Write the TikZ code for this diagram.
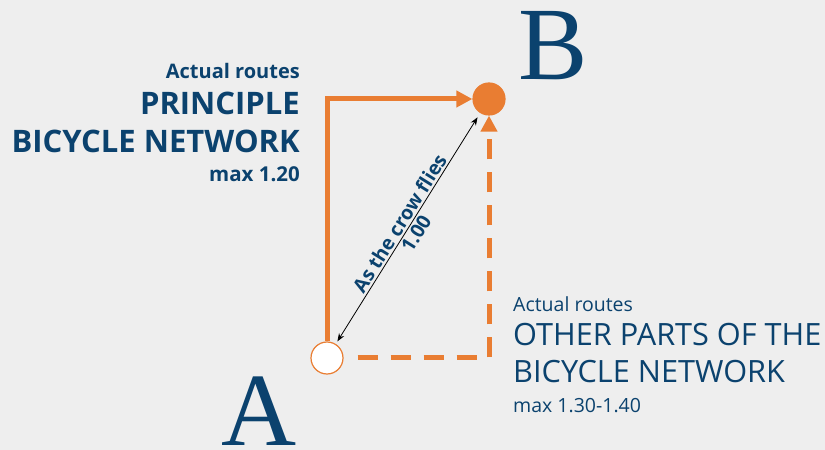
\documentclass[tikz,border=0pt]{standalone}
\usepackage{fontspec}
\setmainfont{Open Sans}
\newfontfamily\letterfont{Liberation Serif}
\usetikzlibrary{arrows.meta}
\definecolor{routeorange}{HTML}{E97D32}
\definecolor{textblue}{HTML}{0B426E}
\definecolor{bggray}{HTML}{EEEEEE}
\begin{document}
\begin{tikzpicture}[x=1pt,y=1pt,
    place/.style={circle,minimum size=32pt,inner sep=0pt,draw=routeorange,line width=1.2pt},
    route/.style={routeorange,line width=5pt},
    routetip/.style={-{Triangle[length=16pt,width=16pt]}},
    crow/.style={black,line width=0.8pt,{Stealth[length=8pt,width=6pt]}-{Stealth[length=8pt,width=6pt]}},
    label/.style={text=textblue,inner sep=0pt},
    letter/.style={text=textblue,inner sep=0pt,text depth=0pt,font=\letterfont\fontsize{104}{104}\selectfont}]
    \fill[bggray] (0,0) rectangle (825,450);
    \node[place,fill=white] (A) at (327,92) {};
    \node[place,fill=routeorange] (B) at (489,351) {};
    \draw[route,routetip] (A) |- (B);
    \draw[route,routetip,dash pattern=on 20pt off 13pt,shorten <=14pt] (A) -| (B);
    \draw[crow,shorten <=3pt,shorten >=5pt] (A) -- (B)
        node[label,midway,sloped,above=2pt,font=\bfseries\fontsize{19.5}{19.5}\selectfont] (crowtext) {As the crow flies}
        node[label,midway,sloped,below=2pt,font=\bfseries\fontsize{19.5}{19.5}\selectfont] (crowvalue) {1.00};
    % big letters
    \node[letter,anchor=base] (Aname) at (259,5) {A};
    \node[letter,anchor=base] (Bname) at (553,370) {B};
    % principle network
    \node[label,anchor=base east,font=\bfseries\fontsize{20}{20}\selectfont] (pactual) at (300,371) {Actual routes};
    \node[label,anchor=base east,font=\bfseries\fontsize{31}{31}\selectfont] (pname1) at (300,335) {PRINCIPLE};
    \node[label,anchor=base east,font=\bfseries\fontsize{31}{31}\selectfont] (pname2) at (300,297) {BICYCLE NETWORK};
    \node[label,anchor=base east,font=\bfseries\fontsize{20.5}{20.5}\selectfont] (pmax) at (300,268) {max 1.20};
    % other parts
    \node[label,anchor=base west,font=\fontsize{19.5}{19.5}\selectfont] (oactual) at (513,138) {Actual routes};
    \node[label,anchor=base west,font=\fontsize{30.7}{30.7}\selectfont] (oname1) at (513,104) {OTHER PARTS OF THE};
    \node[label,anchor=base west,font=\fontsize{30.7}{30.7}\selectfont] (oname2) at (513,67) {BICYCLE NETWORK};
    \node[label,anchor=base west,font=\fontsize{19.5}{19.5}\selectfont] (omax) at (513,37) {max 1.30-1.40};
\end{tikzpicture}
\end{document}
